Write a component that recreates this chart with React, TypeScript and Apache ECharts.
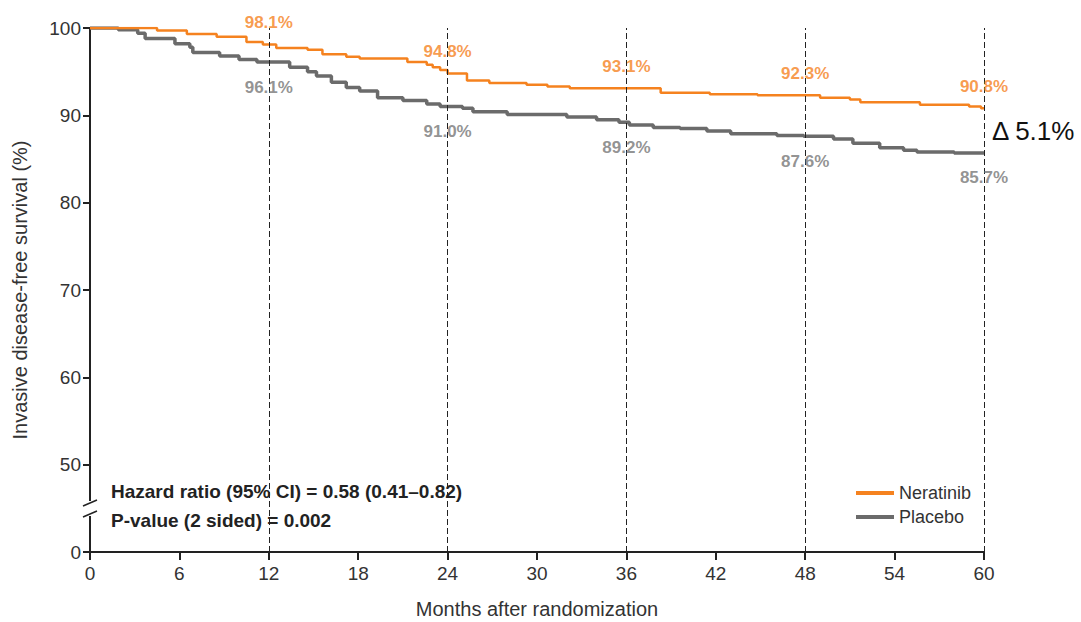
import React, { useEffect, useRef } from "react";
import * as echarts from "echarts";

// Kaplan–Meier step points: [month, survival %]
const neratinibSteps: [number, number][] = [
  [0, 100], [4.5, 99.7], [6.5, 99.3], [8.5, 99.0], [10.5, 98.4], [11.6, 98.1],
  [12.5, 97.7], [14.6, 97.5], [15.6, 97.0], [17.2, 96.7], [18.1, 96.5],
  [21.3, 96.1], [22.6, 95.8], [23.0, 95.5], [23.5, 95.2], [24.0, 94.8],
  [25.3, 94.0], [26.8, 93.7], [29.3, 93.5], [30.7, 93.3], [32.2, 93.1],
  [38.3, 92.6], [41.6, 92.4], [44.8, 92.3], [49.0, 92.0], [51.0, 91.8],
  [51.7, 91.5], [55.7, 91.2], [59.0, 91.0], [59.8, 90.8], [60, 90.8],
];

const placeboSteps: [number, number][] = [
  [0, 100], [1.9, 99.8], [3.2, 99.4], [3.7, 98.8], [5.7, 98.2], [6.7, 97.8],
  [6.9, 97.2], [8.7, 96.8], [10.0, 96.4], [11.2, 96.1], [13.4, 95.5],
  [14.6, 95.0], [15.2, 94.5], [16.2, 93.8], [17.2, 93.2], [18.1, 92.8],
  [19.3, 92.0], [21.0, 91.7], [22.6, 91.3], [23.5, 91.0], [25.0, 90.8],
  [25.7, 90.4], [28.0, 90.1], [32.0, 89.8], [34.0, 89.5], [35.5, 89.2],
  [36.2, 88.9], [37.8, 88.6], [39.6, 88.5], [41.4, 88.2], [43.0, 87.9],
  [46.1, 87.7], [47.9, 87.6], [49.9, 87.3], [51.2, 86.8], [53.0, 86.3],
  [54.6, 86.0], [55.5, 85.8], [58.0, 85.7], [60, 85.7],
];

// Yearly landmark estimates
const landmarkMonths = [12, 24, 36, 48, 60];
const neratinibLandmarks = [98.1, 94.8, 93.1, 92.3, 90.8];
const placeboLandmarks = [96.1, 91.0, 89.2, 87.6, 85.7];

const xTicks = [0, 6, 12, 18, 24, 30, 36, 42, 48, 54, 60];
// The lowest tick sits below the axis break and reads as 0
const yTicks = [40, 50, 60, 70, 80, 90, 100];

const ORANGE = "#F5821F";
const GRAY = "#6B6B6B";
const LABEL_GRAY = "#777777";
const FONT = '"Liberation Sans", Arial, sans-serif';

export default function App() {
  const ref = useRef<HTMLDivElement>(null);

  useEffect(() => {
    document.body.style.margin = "0";
    if (!ref.current) return;
    const chart = echarts.init(ref.current, null, { renderer: "svg" });

    const lastIdx = landmarkMonths.length - 1;
    const delta = (neratinibLandmarks[lastIdx] - placeboLandmarks[lastIdx]).toFixed(1);

    chart.setOption({
      animation: false,
      textStyle: { fontFamily: FONT },
      grid: { left: 90, right: 97, top: 28, bottom: 70, outerBoundsMode: "none", containLabel: false },
      xAxis: {
        type: "value",
        min: xTicks[0],
        max: xTicks[xTicks.length - 1],
        interval: 6,
        name: "Months after randomization",
        nameLocation: "middle",
        nameGap: 47,
        nameTextStyle: { fontSize: 20, color: "#333", fontFamily: FONT },
        axisLine: { lineStyle: { color: "#222", width: 2 } },
        axisTick: { length: 8, lineStyle: { color: "#222", width: 2 } },
        axisLabel: { fontSize: 19, color: "#333", margin: 12, fontFamily: FONT },
        splitLine: { show: false },
      },
      yAxis: {
        type: "value",
        min: yTicks[0],
        max: yTicks[yTicks.length - 1],
        interval: 10,
        name: "Invasive disease-free survival (%)",
        nameLocation: "middle",
        nameRotate: 90,
        nameGap: 60,
        nameTextStyle: { fontSize: 20, color: "#333", fontFamily: FONT },
        axisLine: { show: true, lineStyle: { color: "#222", width: 2 } },
        axisTick: { show: true, length: 7, lineStyle: { color: "#222", width: 2 } },
        axisLabel: {
          fontSize: 19,
          color: "#333",
          margin: 9,
          fontFamily: FONT,
          formatter: (v: number) => (v === yTicks[0] ? "0" : String(v)),
        },
        splitLine: { show: false },
      },
      legend: {
        data: ["Neratinib", "Placebo"],
        orient: "vertical",
        left: 851,
        top: 479,
        itemWidth: 38,
        itemHeight: 4,
        itemGap: 6,
        icon: "rect",
        textStyle: { fontSize: 18, color: "#333", fontFamily: FONT },
      },
      series: [
        {
          name: "Neratinib",
          type: "line",
          step: "end",
          data: neratinibSteps,
          showSymbol: false,
          symbol: "none",
          color: ORANGE,
          lineStyle: { color: ORANGE, width: 2.5 },
          z: 3,
          markLine: {
            silent: true,
            symbol: ["none", "none"],
            label: { show: false },
            lineStyle: { color: "#222", type: [6, 3], width: 1 },
            data: landmarkMonths.map((m) => ({ xAxis: m })),
          },
        },
        {
          name: "Placebo",
          type: "line",
          step: "end",
          data: placeboSteps,
          showSymbol: false,
          symbol: "none",
          color: GRAY,
          lineStyle: { color: GRAY, width: 3.5 },
          z: 2,
        },
        {
          name: "Neratinib landmarks",
          type: "scatter",
          symbolSize: 0,
          data: landmarkMonths.map((m, i) => [m, neratinibLandmarks[i]]),
          label: {
            show: true,
            position: "inside",
            offset: [0, -22],
            formatter: (p: any) => `${p.value[1].toFixed(1)}%`,
            fontSize: 17,
            fontWeight: "bold",
            color: ORANGE,
            fontFamily: FONT,
          },
          z: 5,
        },
        {
          name: "Placebo landmarks",
          type: "scatter",
          symbolSize: 0,
          data: landmarkMonths.map((m, i) => [m, placeboLandmarks[i]]),
          label: {
            show: true,
            position: "inside",
            offset: [0, 25],
            formatter: (p: any) => `${p.value[1].toFixed(1)}%`,
            fontSize: 17,
            fontWeight: "bold",
            color: LABEL_GRAY,
            fontFamily: FONT,
          },
          z: 5,
        },
      ],
      graphic: [
        // axis break on the y axis
        { type: "rect", shape: { x: 84, y: 501, width: 12, height: 15 }, style: { fill: "#fff" }, z: 50 },
        { type: "line", shape: { x1: 83, y1: 506, x2: 97, y2: 500 }, style: { stroke: "#222", lineWidth: 1.5 }, z: 51 },
        { type: "line", shape: { x1: 83, y1: 517, x2: 97, y2: 511 }, style: { stroke: "#222", lineWidth: 1.5 }, z: 51 },
        {
          type: "text",
          x: 111,
          y: 491,
          style: {
            text: "Hazard ratio (95% CI) = 0.58 (0.41–0.82)",
            font: `bold 19px ${FONT}`,
            fill: "#222",
            verticalAlign: "middle",
          },
          z: 60,
        },
        {
          type: "text",
          x: 111,
          y: 520,
          style: {
            text: "P-value (2 sided) = 0.002",
            font: `bold 19px ${FONT}`,
            fill: "#222",
            verticalAlign: "middle",
          },
          z: 60,
        },
        {
          type: "text",
          x: 992,
          y: 131,
          style: {
            text: `Δ ${delta}%`,
            font: `26px ${FONT}`,
            fill: "#111",
            verticalAlign: "middle",
          },
          z: 60,
        },
      ],
    });

    return () => chart.dispose();
  }, []);

  return <div ref={ref} style={{ width: 1081, height: 622 }} />;
}
